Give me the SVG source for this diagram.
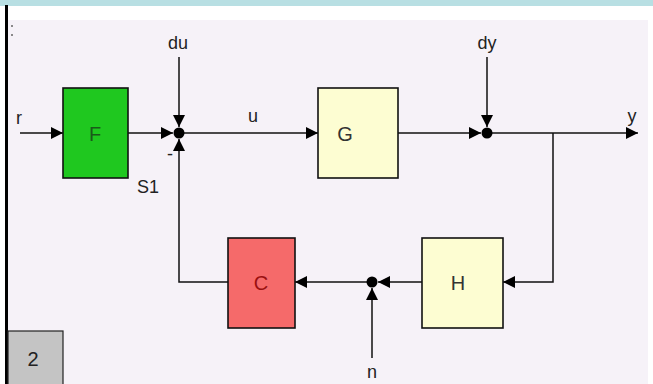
<svg xmlns="http://www.w3.org/2000/svg" width="653" height="384" viewBox="0 0 653 384">
<style>
.blk{stroke:#111;stroke-width:1.6}
.ln{fill:none;stroke:#111;stroke-width:1.5}
.lbl{font-family:"Liberation Sans",Arial,sans-serif;font-size:18px;fill:#222;text-anchor:middle}
.bl{font-family:"Liberation Sans",Arial,sans-serif;font-size:20px;text-anchor:middle}
</style>
<defs>
<marker id="ah" viewBox="0 0 10 10" refX="10" refY="5" markerWidth="13" markerHeight="12" markerUnits="userSpaceOnUse" orient="auto">
<path d="M0,0 L10,5 L0,10 z" fill="#000"/>
</marker>
</defs>
<rect x="0" y="0" width="653" height="384" fill="#ffffff"/>
<rect x="0" y="0" width="653" height="6" fill="#b8dfe3"/>
<rect x="8" y="20" width="640" height="364" fill="#f6f2f8"/>
<rect x="5" y="5" width="3" height="379" fill="#000"/>
<circle cx="12" cy="26" r="1" fill="#666"/>
<circle cx="12" cy="35" r="1" fill="#666"/>

<g id="connectors">
<line class="ln" x1="20" y1="133" x2="63" y2="133" marker-end="url(#ah)"/>
<line class="ln" x1="128" y1="133" x2="173" y2="133" marker-end="url(#ah)"/>
<line class="ln" x1="179" y1="57" x2="179" y2="127" marker-end="url(#ah)"/>
<polyline class="ln" points="228,282 179,282 179,139" marker-end="url(#ah)"/>
<line class="ln" x1="179" y1="133" x2="318" y2="133" marker-end="url(#ah)"/>
<line class="ln" x1="398" y1="133" x2="481" y2="133" marker-end="url(#ah)"/>
<line class="ln" x1="487" y1="57" x2="487" y2="127" marker-end="url(#ah)"/>
<line class="ln" x1="487" y1="133" x2="638" y2="133" marker-end="url(#ah)"/>
<polyline class="ln" points="553,133 553,282 503,282" marker-end="url(#ah)"/>
<line class="ln" x1="422" y1="282" x2="378" y2="282" marker-end="url(#ah)"/>
<line class="ln" x1="372" y1="358" x2="372" y2="288" marker-end="url(#ah)"/>
<line class="ln" x1="372" y1="282" x2="295" y2="282" marker-end="url(#ah)"/>
</g>

<g id="F">
<rect class="blk" x="63" y="88" width="65" height="90" fill="#1fc81f"/>
<text class="bl" x="95" y="141" fill="#1a5a1a">F</text>
</g>
<g id="S1">
<circle cx="179" cy="133" r="5.5" fill="#000"/>
<text class="lbl" x="170" y="160">-</text>
<text class="lbl" x="148" y="193">S1</text>
</g>
<g id="G">
<rect class="blk" x="318" y="88" width="80" height="90" fill="#fdfdd2"/>
<text class="bl" x="345" y="141" fill="#333">G</text>
</g>
<g id="S2">
<circle cx="487" cy="133" r="5.5" fill="#000"/>
</g>
<g id="H">
<rect class="blk" x="422" y="238" width="81" height="90" fill="#fdfdd2"/>
<text class="bl" x="458" y="290" fill="#333">H</text>
</g>
<g id="S3">
<circle cx="372" cy="282" r="5.5" fill="#000"/>
</g>
<g id="C">
<rect class="blk" x="228" y="238" width="67" height="90" fill="#f56a6a"/>
<text class="bl" x="261" y="290" fill="#9a1010">C</text>
</g>
<g id="labels">
<text class="lbl" x="19" y="124">r</text>
<text class="lbl" x="178" y="49">du</text>
<text class="lbl" x="253" y="122">u</text>
<text class="lbl" x="487" y="49">dy</text>
<text class="lbl" x="632" y="122">y</text>
<text class="lbl" x="372" y="378">n</text>
</g>
<g id="tag">
<rect x="8" y="331" width="55" height="56" fill="#c4c4c4" stroke="#222" stroke-width="1.2"/>
<text class="bl" x="33" y="366" fill="#222">2</text>
</g>
</svg>
